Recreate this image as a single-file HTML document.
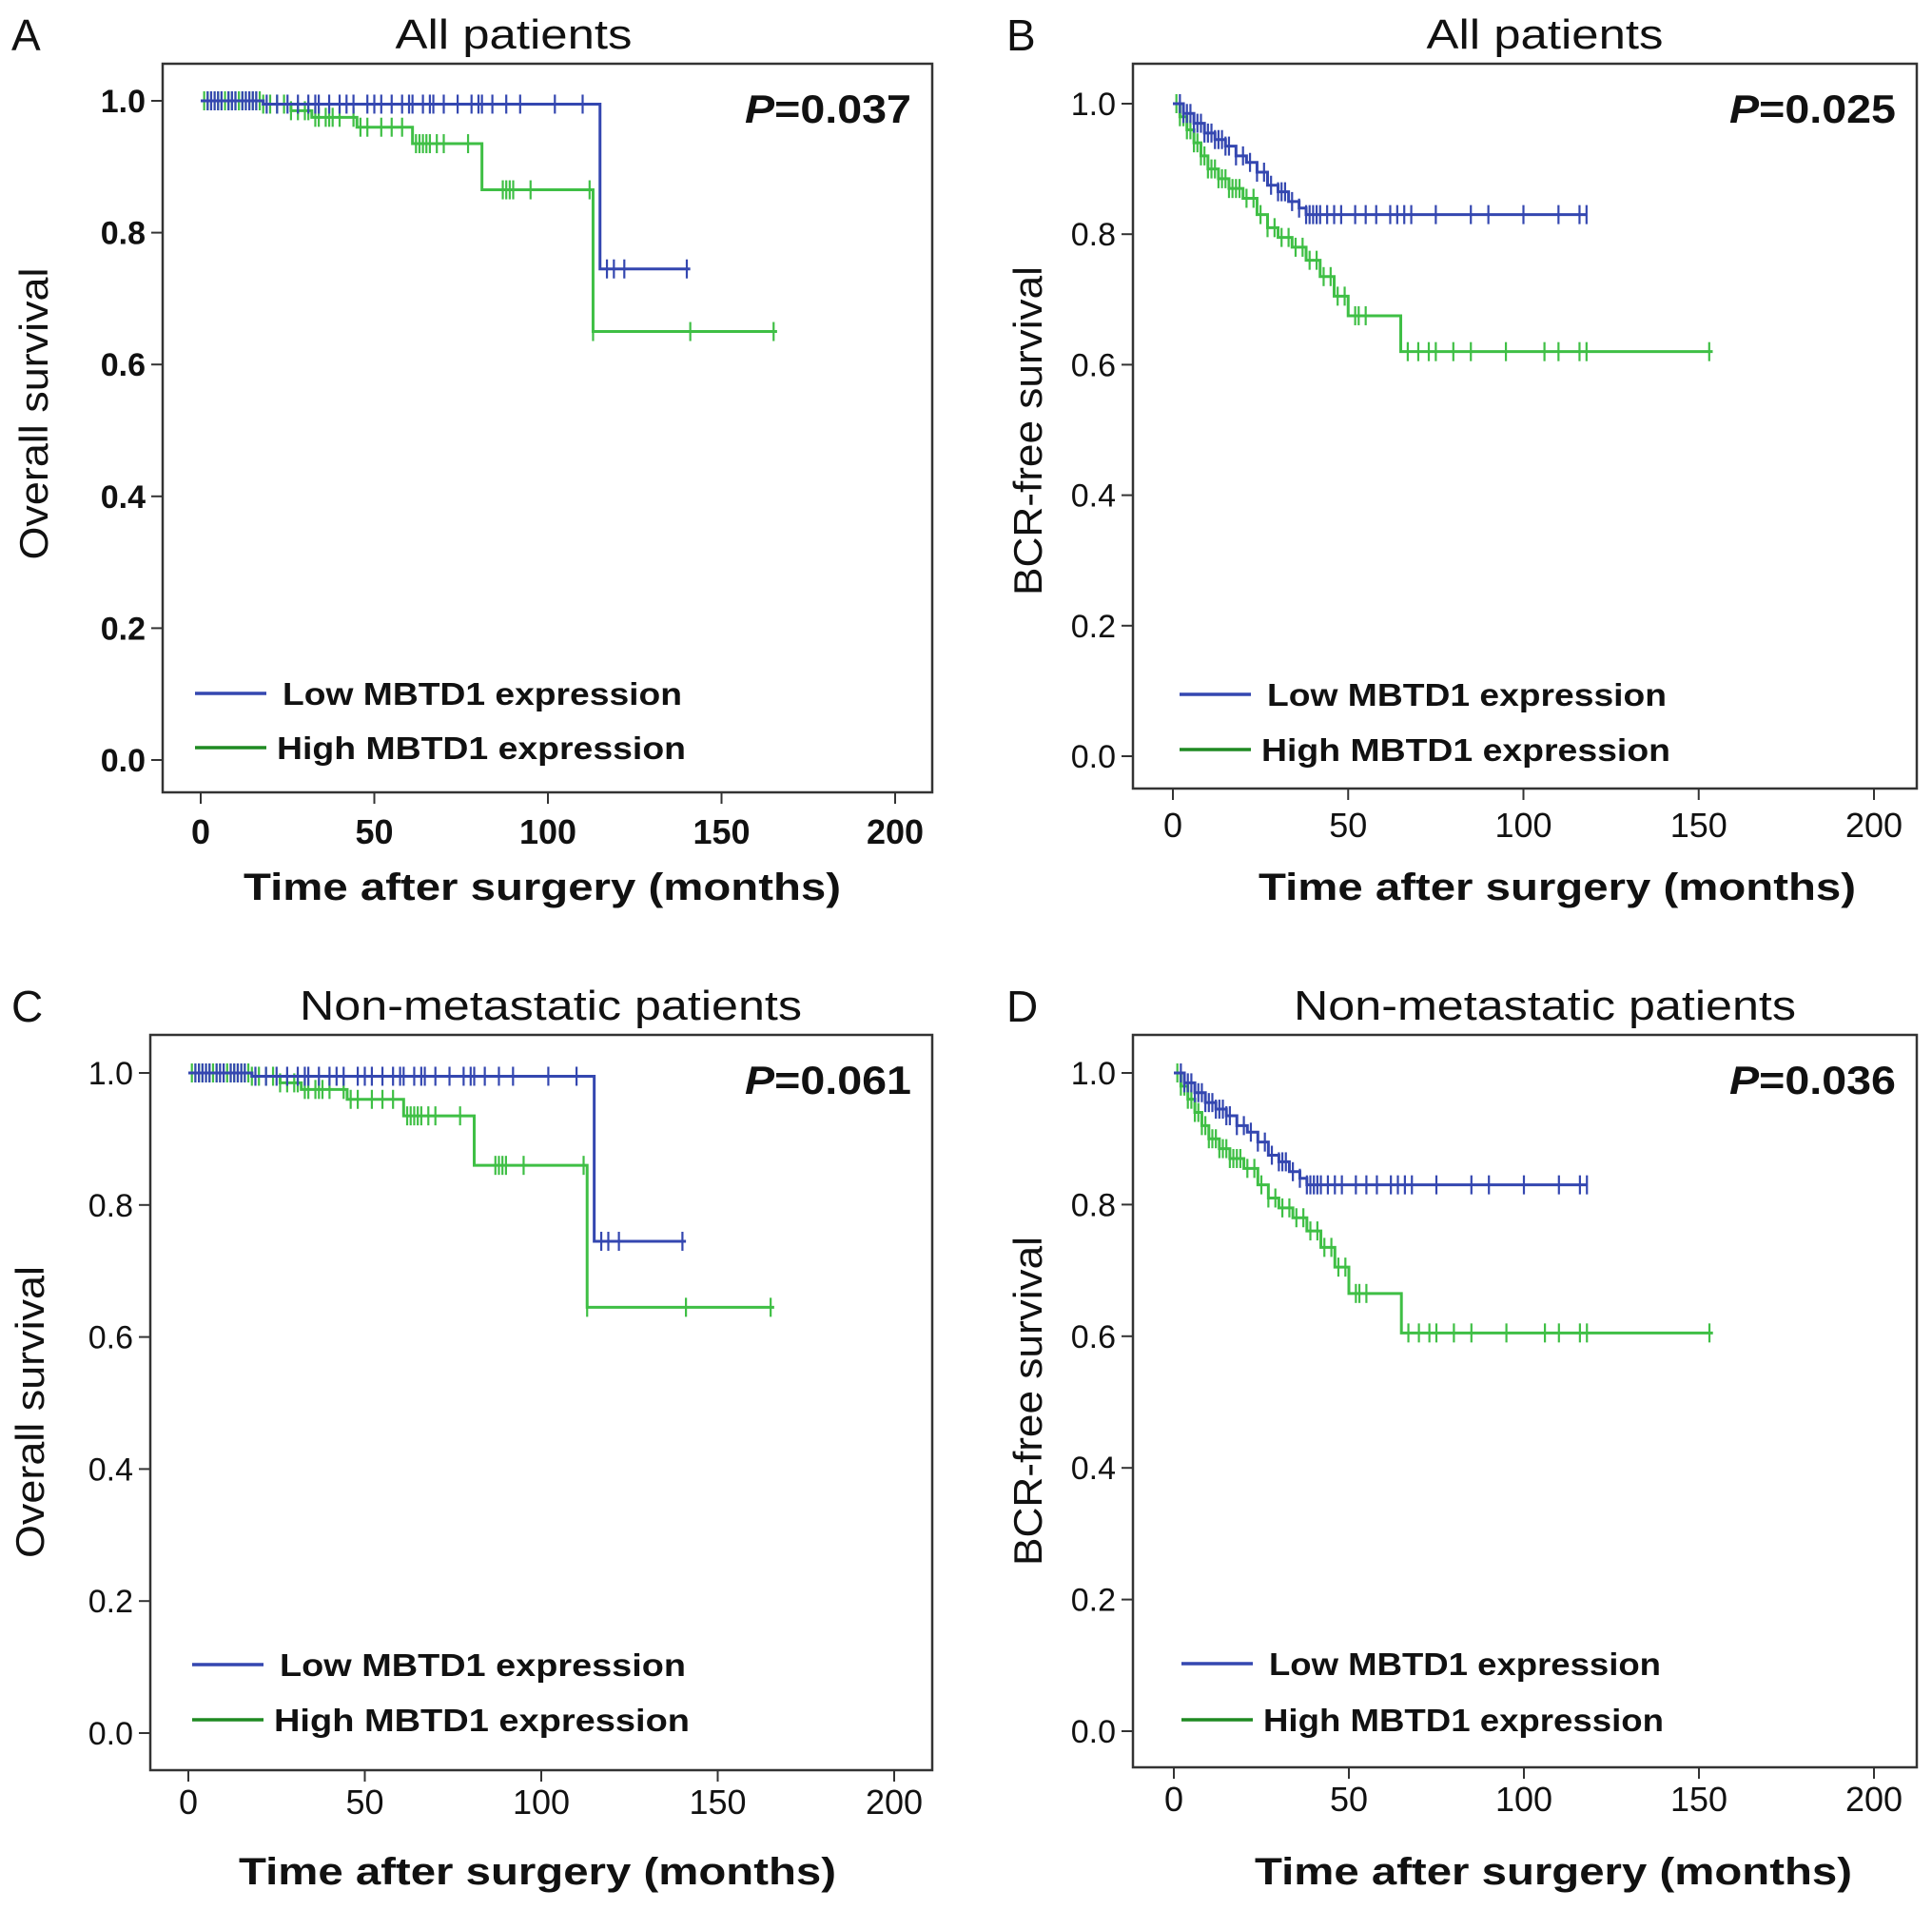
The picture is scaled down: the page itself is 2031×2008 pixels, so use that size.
<!DOCTYPE html>
<html><head><meta charset="utf-8">
<style>
html,body{margin:0;padding:0;background:#fff;}
svg{display:block;font-family:"Liberation Sans",Arial,sans-serif;}
</style></head>
<body>
<svg id="fig" width="2031" height="2008" viewBox="0 0 2031 2008" xmlns="http://www.w3.org/2000/svg"></svg>
<script>
// ---- Panel data (time in months, survival) ----
const aLowT=[0,18,115,141], aLowS=[1.0,0.995,0.745,0.745];
const aLowC=[2,3,4,5,6,8,9,10,12,13,14,15,16,19,22,25,28,31,33,34,37,40,42,44,48,50,52,55,58,60,61,64,66,67,70,74,78,80,81,84,88,92,102,110,117,119,122,140];
const aHighT=[0,18,26,32,45,61,81,113,166], aHighS=[1.0,0.995,0.985,0.975,0.96,0.935,0.865,0.65,0.65];
const aHighC=[1,2,3,4,5,6,7,8,9,10,11,12,13,14,15,16,17,18,20,22,24,26,28,30,31,33,34,36,37,38,40,44,46,48,52,55,58,62,63,64,65,66,68,70,77,87,88,89,90,95,112,113,141,165];

const bLowT=[0,3,6,9,12,15,18,21,24,27,30,33,36,38,118], bLowS=[1.0,0.985,0.97,0.955,0.945,0.935,0.92,0.91,0.895,0.875,0.865,0.85,0.84,0.83,0.83];
const bLowC=[2,3,4,5,6,7,8,9,10,11,12,13,14,15,16,18,20,22,24,26,28,30,31,32,34,36,38,39,40,41,42,44,46,48,52,55,58,62,64,66,68,75,85,90,100,110,116,118];
const bHighT=[0,2,4,6,8,10,13,16,20,24,27,30,34,38,42,46,50,58,65,154], bHighS=[1.0,0.98,0.96,0.94,0.92,0.9,0.885,0.87,0.855,0.83,0.81,0.795,0.78,0.76,0.735,0.705,0.675,0.675,0.62,0.62];
const bHighC=[1,2,3,4,5,6,7,8,9,10,11,12,13,14,15,16,17,18,19,21,23,25,27,29,31,33,35,37,39,41,43,45,47,49,52,53,55,67,70,73,75,80,85,95,106,110,116,118,153];

const cLowT=[0,18,115,141], cLowS=[1.0,0.995,0.745,0.745];
const cLowC=aLowC;
const cHighT=[0,18,26,32,45,61,81,113,166], cHighS=[1.0,0.995,0.985,0.975,0.96,0.935,0.86,0.645,0.645];
const cHighC=aHighC;

const dLowT=bLowT, dLowS=bLowS, dLowC=bLowC;
const dHighT=[0,2,4,6,8,10,13,16,20,24,27,30,34,38,42,46,50,58,65,154], dHighS=[1.0,0.98,0.96,0.94,0.92,0.9,0.885,0.87,0.855,0.83,0.81,0.795,0.78,0.76,0.735,0.705,0.665,0.665,0.605,0.605];
const dHighC=bHighC;

const xTicks=[0,50,100,150,200];
const yTicks=[0.0,0.2,0.4,0.6,0.8,1.0];
const yTickLabels=["0.0","0.2","0.4","0.6","0.8","1.0"];
const pValues=["0.037","0.025","0.061","0.036"];

const NS="http://www.w3.org/2000/svg";
const svg=document.getElementById('fig');
function mk(tag,attrs,parent){const e=document.createElementNS(NS,tag);for(const k in attrs)e.setAttribute(k,attrs[k]);(parent||svg).appendChild(e);return e;}

const BLUE="#3447b0", GREEN="#3fbf45", GREEN_LEG="#1f8a22";

const panels=[
 {id:"a",letter:"A",title:"All patients",tx:540,tl:249,ytitle:"Overall survival",box:[171,67,980,833],x0:211,x200:941,y1:106,y0:799,lx:36,boldTicks:true,low:[aLowT,aLowS,aLowC],high:[aHighT,aHighS,aHighC],p:pValues[0],xtickY:875,xtitleY:932,xtc:570,leg:[205,729,786],legL:[420,430]},
 {id:"b",letter:"B",title:"All patients",tx:1624,tl:249,ytitle:"BCR-free survival",box:[1191,67,2015,829],x0:1233,x200:1970,y1:109,y0:795,lx:1081,boldTicks:false,low:[bLowT,bLowS,bLowC],high:[bHighT,bHighS,bHighC],p:pValues[1],xtickY:868,xtitleY:932,xtc:1637,leg:[1240,730,788],legL:[512,430]},
 {id:"c",letter:"C",title:"Non-metastatic patients",tx:579,tl:528,ytitle:"Overall survival",box:[158,1088,980,1861],x0:198,x200:940,y1:1128,y0:1822,lx:32,boldTicks:false,low:[cLowT,cLowS,cLowC],high:[cHighT,cHighS,cHighC],p:pValues[2],xtickY:1895,xtitleY:1967,xtc:565,leg:[202,1750,1808],legL:[427,437]},
 {id:"d",letter:"D",title:"Non-metastatic patients",tx:1624,tl:528,ytitle:"BCR-free survival",box:[1191,1088,2015,1858],x0:1234,x200:1970,y1:1128,y0:1820,lx:1081,boldTicks:false,low:[dLowT,dLowS,dLowC],high:[dHighT,dHighS,dHighC],p:pValues[3],xtickY:1892,xtitleY:1967,xtc:1633,leg:[1242,1749,1808],legL:[412,421]}
];

panels.forEach(P=>{
  const g=mk('g',{});
  
  
  const X=t=>P.x0+(P.x200-P.x0)*t/200;
  const Y=s=>P.y0+(P.y1-P.y0)*s;
  const [bl,bt,br,bb]=P.box;
  const frame=mk('rect',{x:bl,y:bt,width:br-bl,height:bb-bt,fill:"none",stroke:"#333",'stroke-width':2.5},g);
  
  
  const letter=mk('text',{x:(P.id==='a'||P.id==='c')?12:1058,y:bt-14,'font-size':46,fill:"#111"},g);
  
  
  letter.textContent=P.letter;
  const title=mk('text',{x:P.tx,y:bt-16,'font-size':44,'text-anchor':'middle',fill:"#111",textLength:P.tl,lengthAdjust:'spacingAndGlyphs'},g);
  
  
  title.textContent=P.title;
  yTicks.forEach((v,i)=>{
    const yy=Y(v);
    const tk=mk('line',{x1:bl-12,x2:bl,y1:yy,y2:yy,stroke:"#333",'stroke-width':2},g);
    
    
    const tl=mk('text',{x:bl-18,y:yy+12,'font-size':34,'font-weight':P.boldTicks?'bold':'normal','text-anchor':'end',fill:"#111"},g);
    
    
    tl.textContent=yTickLabels[i];
  });
  xTicks.forEach(v=>{
    const xx=X(v);
    const tk=mk('line',{x1:xx,x2:xx,y1:bb,y2:bb+12,stroke:"#333",'stroke-width':2},g);
    
    
    const tl=mk('text',{x:xx,y:P.xtickY+12,'font-size':36,'font-weight':P.boldTicks?'bold':'normal','text-anchor':'middle',fill:"#111"},g);
    
    
    tl.textContent=String(v);
  });
  const xt=mk('text',{x:P.xtc,y:P.xtitleY+14,'font-size':40,'font-weight':'bold','text-anchor':'middle',fill:"#111",'xml:space':'preserve',textLength:628,lengthAdjust:'spacingAndGlyphs'},g);
  
  
  xt.textContent="Time after surgery  (months)";
  const isOS=P.ytitle==="Overall survival";
  const cy=isOS?(P.id==='a'?435:(1088+1861)/2+10):(P.id==='b'?453:(1088+1858)/2);
  const yt=mk('text',{x:P.lx+14,y:cy,'font-size':42,'text-anchor':'middle',fill:"#111",transform:`rotate(-90 ${P.lx+14} ${cy})`,textLength:isOS?307:346,lengthAdjust:'spacingAndGlyphs'},g);
  
  
  yt.textContent=P.ytitle;
  const pv=mk('text',{x:br-22,y:bt+62,'font-size':42,'font-weight':'bold','text-anchor':'end',fill:"#111",textLength:175,lengthAdjust:'spacingAndGlyphs'},g);
  
  
  const it=mk('tspan',{'font-style':'italic'},pv);it.textContent="P";
  const rest=mk('tspan',{},pv);rest.textContent="="+P.p;
  [[P.high,GREEN,'high-expression-curve'],[P.low,BLUE,'low-expression-curve']].forEach(([ser,col,nm])=>{
    const [T,S,C]=ser;
    let d=`M${X(T[0])},${Y(S[0])}`;
    for(let i=1;i<T.length;i++){d+=` H${X(T[i])} V${Y(S[i])}`;}
    const path=mk('path',{d:d,fill:'none',stroke:col,'stroke-width':3},g);
    
    
    C.forEach(c=>{
      let s=S[0];for(let i=0;i<T.length;i++){if(T[i]<=c)s=S[i];}
      const cx=X(c),yy=Y(s);
      const cm=mk('path',{d:`M${cx},${yy-10} V${yy+10}`,stroke:col,'stroke-width':2.2},g);
      
      
    });
  });
  const [lx,ly1,ly2]=P.leg;
  [[ly1,BLUE,"Low MBTD1 expression",'legend-entry-low',P.legL[0]],[ly2,GREEN_LEG,"High MBTD1 expression",'legend-entry-high',P.legL[1]]].forEach(([yy,col,txt,nm,len],k)=>{
    const lg=mk('g',{},g);
    
    
    mk('line',{x1:lx,x2:lx+75,y1:yy,y2:yy,stroke:col,'stroke-width':3.5},lg);
    const t=mk('text',{x:lx+(k===0?92:86),y:yy+12,'font-size':33,'font-weight':'bold',fill:"#111",textLength:(P.id==='b'&&k===0)?420:len,lengthAdjust:'spacingAndGlyphs'},lg);
    t.textContent=txt;
  });
});
</script>
</body></html>
